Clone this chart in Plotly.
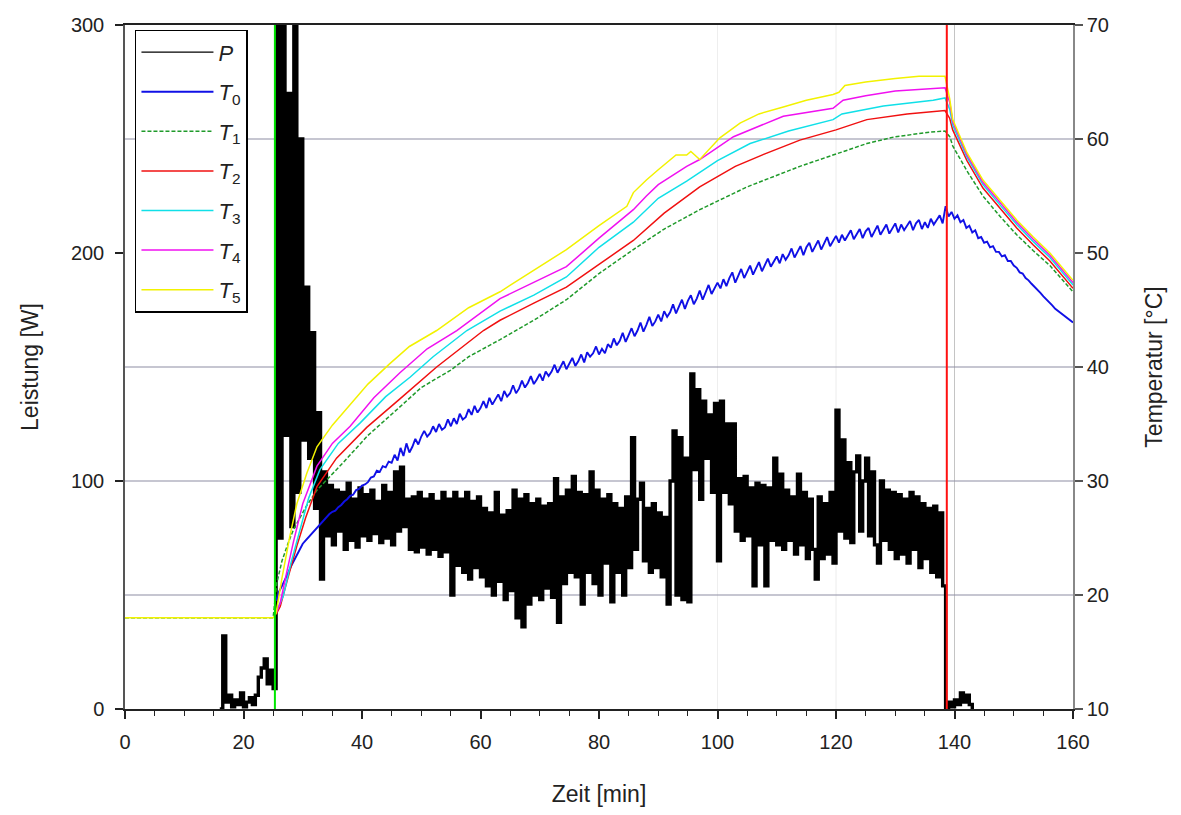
import numpy as np
import plotly.graph_objects as go

# power signal P [W], sampled every 0.5 min starting at 16 min
p_start = 16.0
p_step = 0.5
power = [
    0, 32, 3, 6, 1, 4, 2, 7, 1, 3,
    5, 2, 6, 14, 18, 22, 11, 17, 9, 320,
    75, 330, 120, 270, 80, 330, 95, 250, 118, 185,
    110, 165, 88, 130, 57, 104, 76, 98, 72, 96,
    78, 95, 70, 99, 74, 92, 71, 97, 76, 94,
    74, 96, 77, 91, 73, 98, 75, 95, 72, 104,
    78, 106, 80, 92, 70, 93, 69, 95, 71, 92,
    68, 94, 70, 91, 67, 95, 69, 92, 50, 95,
    63, 92, 60, 95, 57, 91, 62, 93, 58, 88,
    54, 86, 50, 95, 56, 85, 48, 87, 52, 96,
    40, 92, 36, 94, 46, 90, 50, 92, 48, 89,
    53, 90, 49, 101, 38, 93, 55, 96, 60, 102,
    58, 95, 46, 94, 60, 104, 55, 96, 50, 92,
    64, 94, 47, 90, 60, 88, 50, 93, 62, 119,
    70, 92, 99, 65, 88, 60, 90, 62, 86, 58,
    84, 46, 100, 122, 50, 119, 48, 110, 47, 147,
    105, 140, 92, 135, 110, 129, 95, 134, 65, 135,
    95, 125, 90, 125, 78, 101, 74, 102, 76, 97,
    54, 99, 72, 98, 54, 97, 74, 110, 72, 103,
    70, 96, 74, 93, 68, 103, 72, 95, 66, 92,
    70, 57, 93, 66, 90, 68, 95, 64, 131, 78,
    118, 75, 108, 73, 104, 111, 78, 100, 110, 76,
    104, 72, 64, 100, 74, 96, 70, 95, 66, 94,
    68, 92, 64, 95, 70, 93, 62, 90, 66, 88,
    60, 89, 58, 86, 54, 0, 3, 1, 4, 2,
    7, 3, 6, 2, 0,
]

# common start phase of the temperatures [°C]
t_pre = [0, 25]
temp_pre = [18, 18]

# T0, sampled every 0.5 min from 25.5 min
t0_start = 25.5
t0_step = 0.5
temp_t0 = [
    19.5, 20.3, 20.8, 21.3, 21.9, 22.5, 23.0, 23.6, 24.1, 24.5,
    24.8, 25.1, 25.4, 25.7, 26.0, 26.3, 26.6, 26.8, 27.1, 27.3,
    27.4, 27.7, 27.9, 28.2, 28.4, 28.7, 28.8, 29.2, 29.3, 29.6,
    29.7, 29.9, 30.3, 30.4, 30.9, 30.8, 31.3, 31.2, 31.7, 31.6,
    32.3, 31.8, 32.9, 32.2, 33.3, 32.5, 33.0, 33.7, 33.2, 33.9,
    34.4, 33.9, 34.2, 34.8, 34.3, 35.0, 34.5, 34.7, 35.4, 34.8,
    35.5, 35.0, 35.9, 35.4, 35.6, 36.3, 35.8, 36.6, 36.0, 36.4,
    37.0, 36.4, 37.3, 36.7, 37.1, 37.6, 37.0, 37.9, 37.4, 37.7,
    38.4, 37.7, 38.1, 38.8, 38.2, 38.6, 39.2, 38.5, 38.9, 39.4,
    38.8, 39.6, 39.2, 39.6, 40.2, 39.5, 40.0, 40.5, 39.8, 40.3,
    40.8, 40.1, 40.5, 41.1, 40.4, 41.3, 40.9, 41.2, 41.8, 41.1,
    41.6, 41.2, 42.0, 41.7, 42.5, 41.9, 42.3, 43.0, 42.2, 42.8,
    43.4, 42.7, 43.2, 43.9, 43.1, 43.7, 44.4, 43.6, 44.0, 44.6,
    44.0, 44.9, 44.4, 44.8, 45.5, 44.7, 45.3, 45.9, 45.1, 45.8,
    46.3, 45.5, 46.0, 46.7, 45.9, 46.5, 47.2, 46.4, 46.9, 47.4,
    46.9, 47.7, 47.1, 47.8, 48.3, 47.4, 48.0, 48.6, 47.8, 48.4,
    48.9, 48.1, 48.6, 49.2, 48.4, 49.0, 49.5, 48.8, 49.3, 49.7,
    49.1, 49.9, 49.4, 49.8, 50.4, 49.6, 50.1, 50.6, 49.8, 50.5,
    50.9, 50.1, 50.6, 51.1, 50.3, 50.8, 51.4, 50.6, 51.0, 51.5,
    50.9, 51.6, 51.1, 51.5, 52.0, 51.2, 51.7, 52.1, 51.3, 51.9,
    52.2, 51.4, 51.9, 52.4, 51.6, 52.0, 52.5, 51.7, 52.2, 52.6,
    51.8, 52.5, 52.0, 52.4, 52.8, 52.0, 52.6, 52.9, 52.1, 52.7,
    52.2, 53.0, 52.5, 52.9, 53.3, 52.6, 54.1, 53.2, 53.6, 53.0,
    53.3, 52.7, 52.9, 52.2, 52.4, 51.8, 52.0, 51.3, 51.4, 50.9,
    51.0, 50.5, 50.6, 50.1, 50.1, 49.7, 49.8, 49.3, 49.3, 48.9,
    48.7, 48.3, 48.2, 47.8, 47.6, 47.3, 47.0, 46.8, 46.5, 46.2,
    45.9, 45.6, 45.4, 45.1, 44.9, 44.7, 44.5, 44.3, 44.1, 43.9,
]

t1_time = [25.6, 26.5, 27.5, 28.4, 30.5, 32.4, 36.8, 41, 46.4, 50,
           54.9, 58, 63.3, 69, 74.5, 80, 85.8, 91, 97, 105,
           113.9, 120, 125.2, 130, 135.9, 138.4, 139.2, 139.7, 142.1, 144.8,
           147.7, 150.5, 153.3, 156.1, 160]
t1_temp = [21.0, 23.0, 24.5, 25.7, 27.7, 29.2, 31.6, 34.0, 36.5, 38.2,
           39.7, 40.9, 42.4, 44.1, 45.9, 48.2, 50.3, 52.1, 53.8, 55.8,
           57.6, 58.7, 59.6, 60.2, 60.6, 60.7, 60.2, 59.4, 57.2, 55.0,
           53.2, 51.6, 50.2, 48.9, 46.6]

t2_time = [25.5, 26.2, 27.5, 29, 30.5, 32.4, 35.7, 40.8, 46.4, 52.6,
           60.5, 63.3, 69, 74.5, 80, 85.8, 91, 97, 103, 108,
           113.9, 120, 125.2, 132, 138.4, 139.2, 139.7, 142.1, 144.8, 147.7,
           150.5, 153.3, 156.1, 160]
t2_temp = [18.3, 19.0, 21.5, 24.3, 26.8, 29.5, 32.0, 34.7, 37.2, 40.0,
           43.2, 44.1, 45.6, 47.0, 49.0, 51.1, 53.5, 55.8, 57.6, 58.7,
           59.9, 60.8, 61.7, 62.2, 62.5, 61.8, 60.8, 58.1, 55.7, 53.9,
           52.2, 50.7, 49.3, 46.9]

t3_time = [25.5, 26.7, 28, 29.5, 31, 32.9, 36, 39.7, 44, 48.1,
           52, 57.7, 63.3, 69, 74.5, 80, 85.8, 90, 94.8, 100,
           105.5, 112, 119.5, 121, 128, 136.4, 138.4, 139.2, 139.7, 142.1,
           144.8, 147.7, 150.5, 153.3, 156.1, 160]
t3_temp = [18.5, 19.9, 22.8, 25.7, 28.5, 31.0, 33.3, 35.1, 37.4, 39.1,
           40.9, 43.2, 44.9, 46.3, 47.9, 50.5, 52.7, 54.8, 56.3, 58.1,
           59.6, 60.7, 61.7, 62.2, 62.9, 63.4, 63.6, 62.6, 61.2, 58.4,
           56.0, 54.2, 52.5, 51.0, 49.6, 47.2]

t4_time = [25.5, 26.2, 27.3, 28.4, 30, 32.4, 35, 38, 42, 46.4,
           51, 56, 63.3, 69, 74.5, 80, 85.8, 88, 90, 94.8,
           97, 102.7, 111.1, 119.5, 121.2, 125, 130, 138.4, 139.2, 139.7,
           142.1, 144.8, 147.7, 150.5, 153.3, 156.1, 160]
t4_temp = [18.4, 19.3, 22.0, 24.6, 28.0, 31.3, 33.3, 34.8, 37.3, 39.5,
           41.6, 43.2, 46.0, 47.4, 48.8, 51.3, 53.8, 55.0, 56.0, 57.6,
           58.2, 60.2, 62.0, 62.7, 63.4, 63.8, 64.2, 64.5, 63.2, 61.5,
           58.6, 56.2, 54.4, 52.7, 51.2, 49.8, 47.4]

t5_time = [25.5, 26.5, 27.8, 29, 30.7, 32.4, 35, 38, 41, 44.7,
           48, 52.6, 58, 63.3, 69, 74.5, 80, 84.7, 85.8, 88,
           90, 91.4, 93, 94.8, 95.5, 97, 98.5, 100.4, 103.8, 107,
           111.1, 115, 119.5, 120.5, 121.5, 125, 130, 134, 138.4, 139.2,
           139.7, 142.1, 144.8, 147.7, 150.5, 153.3, 156.1, 160]
t5_temp = [18.4, 21.5, 25.1, 28.0, 30.7, 33.0, 34.9, 36.7, 38.5, 40.3,
           41.8, 43.2, 45.2, 46.6, 48.5, 50.3, 52.4, 54.1, 55.3, 56.4,
           57.3, 57.9, 58.6, 58.6, 58.9, 58.2, 59.0, 60.1, 61.4, 62.2,
           62.8, 63.4, 63.9, 64.1, 64.7, 65.0, 65.3, 65.5, 65.5, 63.5,
           61.7, 58.8, 56.4, 54.6, 52.9, 51.4, 50.0, 47.6]

# markers: heater on / off
t_on = 25.3
t_off = 138.7

font = "Liberation Sans, Arial, sans-serif"

fig = go.Figure()

# legend entry for P with a thin line (the data trace itself is drawn wide)
fig.add_trace(go.Scatter(x=[None], y=[None], name="<i>P</i>", mode="lines", legendgroup="p",
                         line=dict(color="black", width=1.4)))

# step shape + wide stroke so the noisy power reads as a dense band
p_time = p_start + p_step * np.arange(len(power))
fig.add_trace(go.Scatter(x=p_time, y=power, name="P", mode="lines", legendgroup="p",
                         showlegend=False, line=dict(color="black", width=3.4, shape="hv")))

t0_time = t0_start + t0_step * np.arange(len(temp_t0))
fig.add_trace(go.Scatter(x=list(t0_time), y=temp_t0, name="<i>T</i><sub>0</sub>", mode="lines",
                         yaxis="y2", legendgroup="t0", line=dict(color="#1010e6", width=1.9)))

# (time, temp, index, colour, dash, with start phase)
curves = [
    (t1_time, t1_temp, "1", "#1f9a2a", "4px,2px", True),
    (t2_time, t2_temp, "2", "#f01010", "solid", False),
    (t3_time, t3_temp, "3", "#10e0e8", "solid", False),
    (t4_time, t4_temp, "4", "#f010f0", "solid", False),
    (t5_time, t5_temp, "5", "#f2f200", "solid", True),
]
for tt, temp, idx, color, dash, pre in curves:
    xs = t_pre + tt if pre else tt
    ys = temp_pre + temp if pre else temp
    fig.add_trace(go.Scatter(x=xs, y=ys, name=f"<i>T</i><sub>{idx}</sub>", mode="lines",
                             yaxis="y2", legendgroup="t" + idx,
                             line=dict(color=color, width=1.5, dash=dash)))

# horizontal grid lines at the temperature ticks
for g in [20, 30, 40, 60]:
    fig.add_shape(type="line", xref="x", yref="y2", x0=0, x1=160, y0=g, y1=g,
                  line=dict(color="#8e8ea4", width=1.2), layer="below")

# faint vertical lines
for v, c in [(100, "#eeeeee"), (120, "#ececec"), (140, "#c4c4c4")]:
    fig.add_shape(type="line", xref="x", yref="paper", x0=v, x1=v, y0=0, y1=1,
                  line=dict(color=c, width=1), layer="below")

fig.add_shape(type="line", xref="x", yref="paper", x0=t_on, x1=t_on, y0=0, y1=1,
              line=dict(color="#00e600", width=2), layer="above")
fig.add_shape(type="line", xref="x", yref="paper", x0=t_off, x1=t_off, y0=0, y1=1,
              line=dict(color="#ff1010", width=2), layer="above")

axis_font = dict(family=font, size=20, color="#222222")
title_font = dict(family=font, size=23, color="#222222")

# page body has an 8px margin, so the figure is sized to fit the window without scrolling
fig.update_layout(
    width=1165, height=799,
    margin=dict(l=117, r=100, t=17, b=98, autoexpand=False),
    paper_bgcolor="white", plot_bgcolor="white",
    font=dict(family=font, color="#222222"),
    showlegend=True,
    legend=dict(x=0.0105, y=0.993, xanchor="left", yanchor="top",
                bgcolor="white", bordercolor="black", borderwidth=1.5,
                font=dict(family=font, size=22, color="#222222"),
                itemwidth=72, tracegroupgap=8),
    xaxis=dict(range=[0, 160], tickvals=list(range(0, 161, 20)), ticks="outside",
               ticklen=8, tickwidth=1.5, tickcolor="#222222", ticklabelstandoff=6,
               minor=dict(dtick=5, ticks="outside", ticklen=5, tickcolor="#222222", tickwidth=1),
               showline=True, linecolor="#222222", linewidth=1.5, mirror=True,
               showgrid=False, zeroline=False, tickfont=axis_font, automargin=False,
               title=dict(text="Zeit [min]", font=title_font, standoff=34)),
    yaxis=dict(range=[0, 300], tickvals=[0, 100, 200, 300], ticks="outside",
               ticklen=8, tickwidth=1.5, tickcolor="#222222", ticklabelstandoff=7,
               showline=True, linecolor="#555555", linewidth=1.5,
               showgrid=False, zeroline=False, tickfont=axis_font, automargin=False,
               title=dict(text="Leistung [W]", font=title_font, standoff=26)),
    yaxis2=dict(range=[10, 70], tickvals=list(range(10, 71, 10)), overlaying="y", side="right",
                ticks="outside", ticklen=8, tickwidth=1.5, tickcolor="#555555",
                showline=True, linecolor="#888888", linewidth=1.5,
                showgrid=False, zeroline=False, tickfont=axis_font, automargin=False,
                title=dict(text="Temperatur [°C]", font=title_font, standoff=38)),
)

fig.write_html("out.html")
